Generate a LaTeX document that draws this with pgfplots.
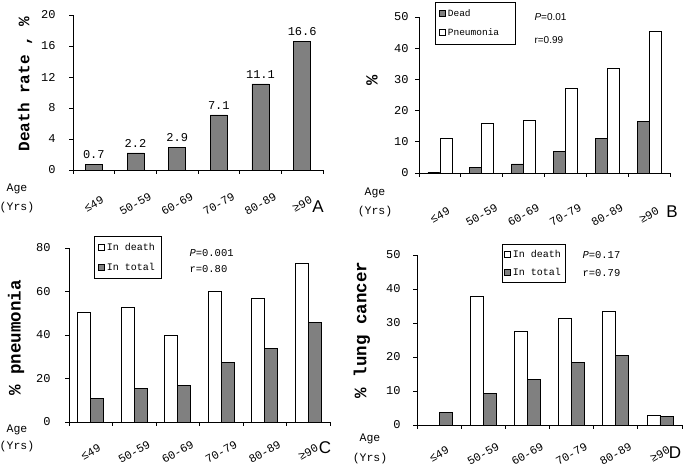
\documentclass[border=0pt]{standalone}
\usepackage{fontspec}
\setmainfont{Liberation Serif}
\newfontfamily\mono{Liberation Mono}
\newfontfamily\sansf{Liberation Sans}
\usepackage{pgfplots}
\pgfplotsset{compat=1.18}
\definecolor{bargray}{RGB}{128,128,128}
\pgfplotsset{
  panel/.style={
    scale only axis, axis lines*=left, anchor=south west,
    xmin=-0.5, xmax=5.5, ymin=0, enlargelimits=false,
    xtick={0,...,5}, xticklabels={≤49,50-59,60-69,70-79,80-89,≥90},
    minor xtick={-0.5,0.5,...,5.5},
    major x tick style={draw=none},
    minor tick length=4pt, major tick length=4pt,
    tick align=outside,
    xticklabel style={anchor=center, font=\mono\fontsize{11.5}{12}\selectfont},
    yticklabel style={font=\mono\fontsize{12}{12}\selectfont},
    /pgf/number format/assume math mode=true,
    axis line style={line width=0.8pt},
    every tick/.style={black, line width=0.8pt},
    clip=false,
    legend cell align=left,
  },
  sq/.style={legend image code/.code={\draw[##1,line width=0.6pt] (0pt,-3pt) rectangle (6pt,3pt);}},
}
\begin{document}
\begin{tikzpicture}
\useasboundingbox (0pt,0pt) rectangle (685pt,468pt);
% Panel A
\begin{axis}[panel, at={(73pt,298pt)}, width=250pt, height=155pt, ymax=20, ytick={0,4,...,20},
  ybar, bar width=17pt,
  xticklabel style={yshift=-30pt, rotate=30}, yticklabel style={xshift=-10pt},
  nodes near coords, nodes near coords style={font=\mono\fontsize{12}{12}\selectfont, yshift=2pt}]
\addplot[fill=bargray, draw=black, line width=0.7pt] coordinates {(0,0.7)(1,2.2)(2,2.9)(3,7.1)(4,11.1)(5,16.6)};
\end{axis}
% Panel B
\begin{axis}[panel, at={(419pt,295pt)}, width=251pt, height=156pt, ymax=50, ytick={0,10,...,50},
  ybar=0pt, bar width=12pt,
  xticklabel style={yshift=-38pt, rotate=30}, yticklabel style={xshift=-3pt},
  legend style={at={(0.064,1.096)}, anchor=north west, font=\mono\fontsize{9.5}{10}\selectfont,
    draw=black, inner xsep=4pt, inner ysep=5pt, row sep=7pt}]
\addplot[fill=bargray, draw=black, line width=0.7pt, sq] coordinates {(0,0.3)(1,1.9)(2,2.9)(3,6.9)(4,11.1)(5,16.5)};
\addplot[fill=white, draw=black, line width=0.7pt, sq] coordinates {(0,11.2)(1,15.9)(2,16.8)(3,27.1)(4,33.5)(5,45.5)};
\legend{Dead\hspace*{20pt},Pneumonia\hspace*{10pt}}
\end{axis}
% Panel C
\begin{axis}[panel, at={(69pt,46pt)}, width=261pt, height=174pt, ymax=80, ytick={0,20,...,80},
  ybar=0pt, bar width=13pt,
  xticklabel style={yshift=-26pt, rotate=30}, yticklabel style={xshift=-11pt},
  legend style={at={(0.096,1.069)}, anchor=north west, font=\mono\fontsize{10}{10}\selectfont,
    draw=black, inner xsep=4pt, inner ysep=5pt, row sep=7pt}]
\addplot[fill=white, draw=black, line width=0.7pt, sq] coordinates {(0,50.4)(1,52.9)(2,40.0)(3,60.1)(4,56.9)(5,72.8)};
\addplot[fill=bargray, draw=black, line width=0.7pt, sq] coordinates {(0,11.0)(1,15.6)(2,17.0)(3,27.3)(4,33.9)(5,45.8)};
\legend{In death,In total}
\end{axis}
% Panel D
\begin{axis}[panel, at={(417pt,43pt)}, width=265pt, height=170pt, ymax=50, ytick={0,10,...,50},
  ybar=0pt, bar width=13pt,
  xticklabel style={yshift=-25pt, rotate=30}, yticklabel style={xshift=-9pt},
  legend style={at={(0.321,1.065)}, anchor=north west, font=\mono\fontsize{10}{10}\selectfont,
    draw=black, inner xsep=2pt, inner ysep=4pt, row sep=5pt}]
\addplot[fill=white, draw=black, line width=0.7pt, sq] coordinates {(1,37.9)(2,27.6)(3,31.4)(4,33.4)(5,2.7)};
\addplot[fill=bargray, draw=black, line width=0.7pt, sq] coordinates {(0,3.6)(1,9.3)(2,13.4)(3,18.3)(4,20.4)(5,2.4)};
\legend{In death,In total}
\end{axis}
% y labels
\node[rotate=90, font=\mono\bfseries\fontsize{16}{16}\selectfont] at (25pt,384pt) {Death rate , \%};
\node[rotate=90, font=\mono\bfseries\fontsize{17}{17}\selectfont] at (372pt,388pt) {\%};
\node[rotate=90, font=\mono\bfseries\fontsize{17.5}{17.5}\selectfont] at (16pt,130pt) {\% pneumonia};
\node[rotate=90, font=\mono\bfseries\fontsize{17.5}{17.5}\selectfont] at (362pt,138pt) {\% lung cancer};
% Age labels
\begin{scope}[every node/.style={font=\mono\fontsize{11.5}{12}\selectfont}]
\node at (17pt,279pt) {Age}; \node at (17pt,260pt) {(Yrs)};
\node at (375pt,275pt) {Age}; \node at (375pt,256pt) {(Yrs)};
\node at (17pt,38pt) {Age}; \node at (17pt,21pt) {(Yrs)};
\node at (370pt,29pt) {Age}; \node at (370pt,9pt) {(Yrs)};
\end{scope}
% panel letters
\begin{scope}[every node/.style={font=\sansf\fontsize{17}{17}\selectfont}]
\node at (318pt,261pt) {A};
\node at (672pt,256pt) {B};
\node at (325pt,20pt) {C};
\node at (675pt,15pt) {D};
\end{scope}
% statistics
\node[anchor=west, font=\sansf\fontsize{10}{10}\selectfont] at (531pt,451pt) {\textit{P}=0.01};
\node[anchor=west, font=\sansf\fontsize{10}{10}\selectfont] at (531pt,428pt) {r=0.99};
\node[anchor=west, font=\mono\fontsize{10.5}{10.5}\selectfont] at (186pt,215pt) {\textit{P}=0.001};
\node[anchor=west, font=\mono\fontsize{10.5}{10.5}\selectfont] at (186pt,199pt) {r=0.80};
\node[anchor=west, font=\mono\fontsize{10.5}{10.5}\selectfont] at (579pt,213pt) {\textit{P}=0.17};
\node[anchor=west, font=\mono\fontsize{10.5}{10.5}\selectfont] at (579pt,195pt) {r=0.79};
\end{tikzpicture}
\end{document}
